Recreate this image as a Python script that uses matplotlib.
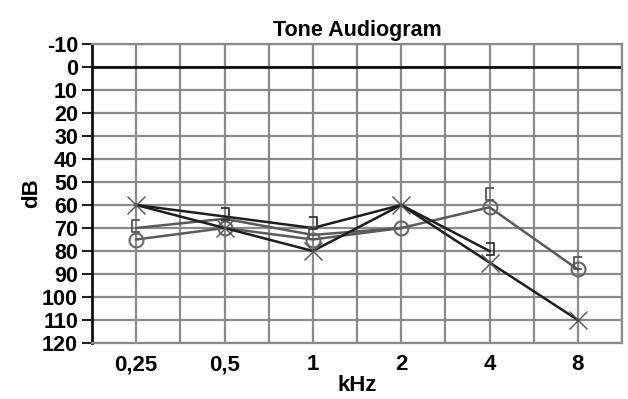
import numpy as np
import matplotlib
matplotlib.use("Agg")
import matplotlib.pyplot as plt
from matplotlib.ticker import FixedLocator, NullFormatter
from matplotlib.path import Path

freqs = [0.25, 0.5, 1, 2, 4, 8]
freq_labels = ["0,25", "0,5", "1", "2", "4", "8"]
ac_right = [75, 70, 75, 70, 61, 88]      # circles (gray)
ac_left = [60, 70, 80, 60, 85, 110]      # crosses (dark)
bc_left = [60, 65, 70, 60, 80, np.nan]   # ] line (dark)
bc_left_sym = [np.nan, 64, 68, np.nan, 79, np.nan]  # ] symbols
bc_right_line = [70, 66, 73, 70, np.nan, np.nan]    # [ connected (gray)
bc_right = [69, np.nan, 72, np.nan, 55, 85]         # [ symbols
db_ticks = [-10, 0, 10, 20, 30, 40, 50, 60, 70, 80, 90, 100, 110, 120]

plt.rcParams['font.family'] = ['Liberation Sans', 'DejaVu Sans']
fig = plt.figure(figsize=(6.28, 3.99), dpi=100)
ax = fig.add_axes([92/628, 1-343/399, (622-92)/628, (343-44)/399])

ax.set_xscale('log', base=2)
ax.set_xlim(0.25/np.sqrt(2), 8*np.sqrt(2))
ax.set_ylim(120, -10)

ax.xaxis.set_major_locator(FixedLocator(freqs))
ax.set_xticklabels(freq_labels, fontsize=16, fontweight='bold')
minor = [f*np.sqrt(2) for f in freqs] + [freqs[0]/np.sqrt(2)]
ax.xaxis.set_minor_locator(FixedLocator(minor))
ax.xaxis.set_minor_formatter(NullFormatter())
ax.tick_params(axis='x', which='both', length=0, pad=8)

ax.set_yticks(db_ticks)
ax.set_yticklabels([str(t) for t in db_ticks], fontsize=15.5, fontweight='bold')
ax.tick_params(axis='y', length=7, width=1.5, color='#222222', pad=3)

gc = '#8a8a8a'
ax.grid(True, which='both', axis='x', color=gc, lw=1.6)
ax.grid(True, which='major', axis='y', color=gc, lw=1.6)
ax.axhline(0, color='#111111', lw=2, zorder=2)
for s in ['top', 'right', 'bottom']:
    ax.spines[s].set_color(gc)
    ax.spines[s].set_linewidth(1.6)
ax.spines['left'].set_color('#111111')
ax.spines['left'].set_linewidth(2)

lbr = Path([(0.35, 0.5), (-0.35, 0.5), (-0.35, -0.5), (0.35, -0.5)],
           [Path.MOVETO, Path.LINETO, Path.LINETO, Path.LINETO])
rbr = Path([(-0.35, 0.5), (0.35, 0.5), (0.35, -0.5), (-0.35, -0.5)],
           [Path.MOVETO, Path.LINETO, Path.LINETO, Path.LINETO])

dark = '#1e1e1e'
gray = '#5a5a5a'
ax.plot(freqs, bc_right_line, color=gray, lw=1.8, zorder=3)
ax.plot(freqs, ac_right, color=gray, lw=1.8, marker='o', ms=10, mfc='none',
        mec='#666666', mew=1.5, zorder=4)
ax.plot(freqs, bc_left, color=dark, lw=1.8, zorder=5)
ax.plot(freqs, ac_left, color=dark, lw=1.8, zorder=5)
ax.plot(freqs, ac_left, ls='none', marker='x', ms=13, mec='#555555', mew=1.0, zorder=6)
ax.plot(freqs, bc_right, ls='none', marker=lbr, ms=8,
        mec='#555555', mew=1.3, mfc='none', zorder=6)
ax.plot(freqs, bc_left_sym, ls='none', marker=rbr, ms=8,
        mec='#333333', mew=1.3, mfc='none', zorder=6)

ax.set_title('Tone Audiogram', fontsize=15.5, fontweight='bold', pad=6)
ax.set_xlabel('kHz', fontsize=16, fontweight='bold', labelpad=0)
ax.set_ylabel('dB', fontsize=16, fontweight='bold', labelpad=0)

fig.savefig('out.png', dpi=100)
